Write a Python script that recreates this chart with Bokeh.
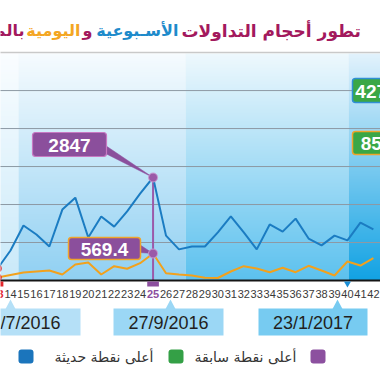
import numpy as np
from bokeh.plotting import figure
from bokeh.models import Range1d, ColumnDataSource
from bokeh.core.properties import value
from bokeh.embed import file_html
from bokeh.resources import INLINE

# ---------------- data ----------------
weeks = [13, 14, 15, 16, 17, 18, 19, 20, 21, 22, 23, 24, 25, 26, 27,
         28, 29, 30, 31, 32, 33, 34, 35, 36, 37, 38, 39, 40, 41, 42]
weekly = [330, 830, 1520, 1270, 940, 1960, 2290, 1190, 1770, 1490, 1910, 2400, 2847, 1240, 860,
          940, 940, 1330, 1770, 1330, 860, 1550, 1350, 1710, 1160, 970, 1240, 1110, 1600, 1410]
daily = [63, 116, 169, 190, 211, 127, 337, 380, 127, 302, 247, 365, 569.4, 154, 127,
         105, 57, 53, 190, 302, 253, 175, 268, 175, 310, 211, 105, 401, 316, 470]
tick_labels = [str(w) for w in weeks]
start_week = 13
peak_week = 25
peak_weekly = 2847
peak_daily = 569.4
recent_high_weekly = "4271"
recent_high_daily = "852"
grid_values = [1050, 2100, 3150, 4200, 5250]
date_labels = ["5/7/2016", "27/9/2016", "23/1/2017"]
legend_labels = ["أعلى نقطة حديثة", "أعلى نقطة سابقة"]
title_parts = ["تطور أحجام التداولات", "الأسـبوعية", "و", "اليومية", "بالمليون"]

# ---------------- pixel <-> data helpers (picture pixels) ----------------
PX = 12.96          # pixels per week
X_REF = 10.0        # pixel x of week 14
BASE = 280.0        # pixel y of the value axis
KW = 2847 / 103.0   # weekly units per pixel
KD = 569.4 / 27.0   # daily units per pixel


def xd(rx):
    return 14 + (rx - X_REF) / PX


def yw(ry):
    return (BASE - ry) * KW


def rx_of(n):
    return X_REF + (n - 14) * PX


def ry_w(v):
    return BASE - v / KW


def ry_d(v):
    return BASE - v / KD


W, H = 380, 372
p = figure(width=W, height=H, output_backend="svg", toolbar_location=None,
           x_range=Range1d(xd(0), xd(W)), y_range=Range1d(yw(H), yw(0)),
           x_axis_type=None, y_axis_type=None, min_border=0,
           outline_line_color=None, background_fill_color="white",
           border_fill_color="white")
p.extra_y_ranges = {"daily": Range1d((BASE - H) * KD, BASE * KD)}


def hex2rgb(h):
    h = h.lstrip("#")
    return np.array([int(h[i:i + 2], 16) for i in (0, 2, 4)], dtype=float)


def gradient(top, bottom, n=227):
    t = np.linspace(0, 1, n)[:, None]
    rgb = hex2rgb(bottom) + (hex2rgb(top) - hex2rgb(bottom)) * t
    img = np.empty((n, 1), dtype=np.uint32)
    view = img.view(dtype=np.uint8).reshape((n, 1, 4))
    view[:, 0, 0:3] = np.round(rgb).astype(np.uint8)
    view[:, 0, 3] = 255
    return img


# background bands
bands = [(-10, 18, "#fafdff", "#c9e9f9"),
         (18, 185, "#f6fbfe", "#90d0f2"),
         (185, 348, "#eef8fd", "#5cc1ee"),
         (348, 390, "#e2f2fc", "#12a2e3")]
for x0, x1, top, bot in bands:
    p.image_rgba(image=[gradient(top, bot)], x=xd(x0), y=yw(BASE), dw=xd(x1) - xd(x0),
                 dh=yw(53) - yw(BASE))

# separator under title
p.segment(x0=xd(-10), x1=xd(390), y0=yw(52), y1=yw(52), line_color="#c9c9c9", line_width=1.5)

# gridlines
p.segment(x0=[xd(-10)] * len(grid_values), x1=[xd(390)] * len(grid_values),
          y0=grid_values, y1=grid_values, line_color="#8d99a4", line_width=1)

# purple vertical marker line
p.segment(x0=[peak_week], y0=[peak_weekly], x1=[peak_week], y1=[0],
          line_color="#9b5aa9", line_width=2)

# axis line
p.segment(x0=xd(-10), x1=xd(390), y0=0, y1=0, line_color="#151515", line_width=2)

# series lines
p.line(weeks, weekly, line_color="#1b7cc2", line_width=2)
p.line(weeks, daily, y_range_name="daily", line_color="#f2a11c", line_width=2)

# start markers (red)
p.scatter([start_week], [weekly[0]], size=7, fill_color="#f6b3b3", line_color="#e3262b", line_width=1.5)
p.scatter([start_week], [daily[0]], y_range_name="daily", size=7, fill_color="#f6b3b3",
          line_color="#e3262b", line_width=1.5)

# callout for weekly peak
ax, ay = rx_of(peak_week), ry_w(peak_weekly)
p.patch(x=[xd(105), xd(105), xd(ax)], y=[yw(145), yw(153), yw(ay)], fill_color="#8b4f9c",
        line_color="#8b4f9c", line_width=0.5)
p.quad(left=xd(32), right=xd(106), top=yw(132), bottom=yw(156), fill_color="#8b4f9c",
       line_color="#c779c2", line_width=1.2, border_radius=3)
p.text(x=[xd(69)], y=[yw(144.5)], text=[f"{peak_weekly}"], text_color="white",
       text_font=value("Liberation Sans"), text_font_size=value("19px"), text_font_style="bold",
       text_align="center", text_baseline="middle")

# callout for daily peak
bx, by = rx_of(peak_week), ry_d(peak_daily)
p.patch(x=[xd(139), xd(139), xd(bx)], y=[yw(244), yw(252), yw(by)], fill_color="#8b4f9c",
        line_color="#8b4f9c", line_width=0.5)
p.quad(left=xd(68), right=xd(140), top=yw(237), bottom=yw(259), fill_color="#8b4f9c",
       line_color="#f0a42a", line_width=1.5, border_radius=3)
p.text(x=[xd(104)], y=[yw(248.5)], text=[f"{peak_daily}"], text_color="white",
       text_font=value("Liberation Sans"), text_font_size=value("19px"), text_font_style="bold",
       text_align="center", text_baseline="middle")

# peak markers
p.scatter([peak_week], [peak_weekly], size=9, fill_color="#9b59a8", line_color="#c89bd2", line_width=1)
p.scatter([peak_week], [peak_daily], y_range_name="daily", size=9, fill_color="#9b59a8",
          line_color="#c89bd2", line_width=1)

# green boxes at right (recent highs)
p.quad(left=xd(352), right=xd(400), top=yw(78), bottom=yw(102), fill_color="#3aa746",
       line_color="#2f8fd4", line_width=1.5, border_radius=3)
p.text(x=[xd(376)], y=[yw(90.5)], text=[recent_high_weekly], text_color="white",
       text_font=value("Liberation Sans"), text_font_size=value("19px"), text_font_style="bold",
       text_align="center", text_baseline="middle")
p.quad(left=xd(352), right=xd(400), top=yw(131), bottom=yw(154), fill_color="#3aa746",
       line_color="#f0a42a", line_width=1.5, border_radius=3)
p.text(x=[xd(376)], y=[yw(143)], text=[recent_high_daily], text_color="white",
       text_font=value("Liberation Sans"), text_font_size=value("19px"), text_font_style="bold",
       text_align="center", text_baseline="middle")

# tabs under the axis
p.quad(left=[start_week - 0.45], right=[start_week + 0.45], top=yw(281), bottom=yw(286),
       fill_color="#e3262b", line_color=None)
p.quad(left=[peak_week - 0.45], right=[peak_week + 0.45], top=yw(281), bottom=yw(286),
       fill_color="#8c4f9e", line_color=None)
p.scatter([40], [yw(283)], marker="inverted_triangle", size=7, fill_color="#1a8ed6", line_color=None)

# tick labels
tcol = ["#e3262b" if w == start_week else "#8c4f9e" if w == peak_week else "#3a3a3a" for w in weeks]
tsty = ["bold" if w in (start_week, peak_week) else "normal" for w in weeks]
tsrc = ColumnDataSource(dict(x=weeks, y=[yw(293)] * len(weeks), label=tick_labels, color=tcol, style=tsty))
p.text(x="x", y="y", text="label", source=tsrc, text_color="color", text_font_style="style",
       text_font=value("Liberation Sans"), text_font_size=value("11px"),
       text_align="center", text_baseline="middle")

# date boxes
boxes = [(-30, 80, 10, "#b5e0f7"), (113, 223, 170, "#9bd7f5"), (258, 367, 337, "#77cbf1")]
for (l, r, tip, col), lab in zip(boxes, date_labels):
    p.patch(x=[xd(tip - 5), xd(tip), xd(tip + 5)], y=[yw(308.5), yw(299), yw(308.5)],
            fill_color=col, line_color=None)
    p.quad(left=xd(l), right=xd(r), top=yw(308), bottom=yw(335), fill_color=col, line_color=None)
    p.text(x=[xd((l + r) / 2)], y=[yw(322)], text=[lab], text_color="#231f20",
           text_font=value("Liberation Sans"), text_font_size=value("18px"),
           text_align="center", text_baseline="middle")

# legend
sq = [(18, 33, "#1b75bc"), (168, 183, "#34a046"), (310, 325, "#8c509f")]
for l, r, c in sq:
    p.quad(left=xd(l), right=xd(r), top=yw(349), bottom=yw(363), fill_color=c, line_color=None,
           border_radius=3)
for rx, lab in zip([153, 296], legend_labels):
    p.text(x=[xd(rx)], y=[yw(356)], text=[lab], text_color="#333333",
           text_font=value("DejaVu Sans"), text_font_size=value("14px"),
           text_align="right", text_baseline="middle")

# title (multi-coloured pieces, right-to-left)
crimson, blue, orange = "#a3195d", "#1e8bcb", "#f4a623"
title_specs = [(181, "left", crimson, "17px"), (178, "right", blue, "16px"),
               (92, "right", crimson, "16px"), (80, "right", orange, "16px"),
               (24, "right", crimson, "16px")]
for (rx, al, c, fs), part in zip(title_specs, title_parts):
    p.text(x=[xd(rx)], y=[yw(30)], text=[part], text_color=c, text_font=value("DejaVu Sans"),
           text_font_size=value(fs), text_font_style="bold", text_align=al,
           text_baseline="middle")

open("out.html", "w").write(file_html(p, INLINE))
